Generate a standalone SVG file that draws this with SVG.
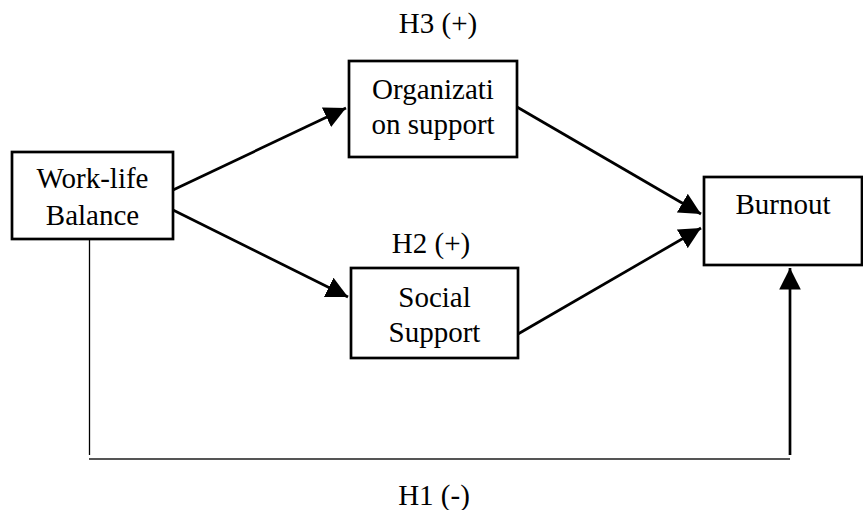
<svg xmlns="http://www.w3.org/2000/svg" width="863" height="510" viewBox="0 0 863 510">
<style>
.box{fill:#fff;stroke:#000;stroke-width:2.7}
.t{font-family:"Liberation Serif","Times New Roman",serif;font-size:29px;fill:#000;text-anchor:middle}
.ar{stroke:#000;stroke-width:2.7;fill:none}
</style>
<defs>
<marker id="ah2" viewBox="0 0 10 10" refX="10" refY="5" markerWidth="8" markerHeight="8" orient="auto">
<path d="M0,0 L10,5 L0,10 z" fill="#000"/>
</marker>
</defs>
<g id="connectors">
<line class="ar" x1="173" y1="190" x2="346" y2="108" marker-end="url(#ah2)"/>
<line class="ar" x1="173" y1="210" x2="348" y2="297" marker-end="url(#ah2)"/>
<line class="ar" x1="517" y1="107" x2="701" y2="214" marker-end="url(#ah2)"/>
<line class="ar" x1="518" y1="334" x2="701" y2="228" marker-end="url(#ah2)"/>
<line x1="89.5" y1="240" x2="89.5" y2="455" stroke="#000" stroke-width="1.3"/>
<line x1="89" y1="459" x2="790" y2="459" stroke="#555" stroke-width="2"/>
<line class="ar" x1="790" y1="455" x2="790" y2="268" marker-end="url(#ah2)"/>
</g>
<g id="worklife">
<rect class="box" x="12" y="152" width="161" height="87"/>
<text class="t" x="92.5" y="188">Work-life</text>
<text class="t" x="92.5" y="225">Balance</text>
</g>
<g id="org">
<rect class="box" x="349" y="61" width="168" height="96"/>
<text class="t" x="433" y="99">Organizati</text>
<text class="t" x="433" y="134">on support</text>
</g>
<g id="social">
<rect class="box" x="351" y="268" width="167" height="90"/>
<text class="t" x="434.5" y="307">Social</text>
<text class="t" x="434.5" y="342">Support</text>
</g>
<g id="burnout">
<rect class="box" x="704" y="177" width="158" height="88"/>
<text class="t" x="783" y="214">Burnout</text>
</g>
<g id="labels">
<text class="t" x="438" y="33">H3 (+)</text>
<text class="t" x="431" y="253">H2 (+)</text>
<text class="t" x="434" y="505">H1 (-)</text>
</g>
</svg>
